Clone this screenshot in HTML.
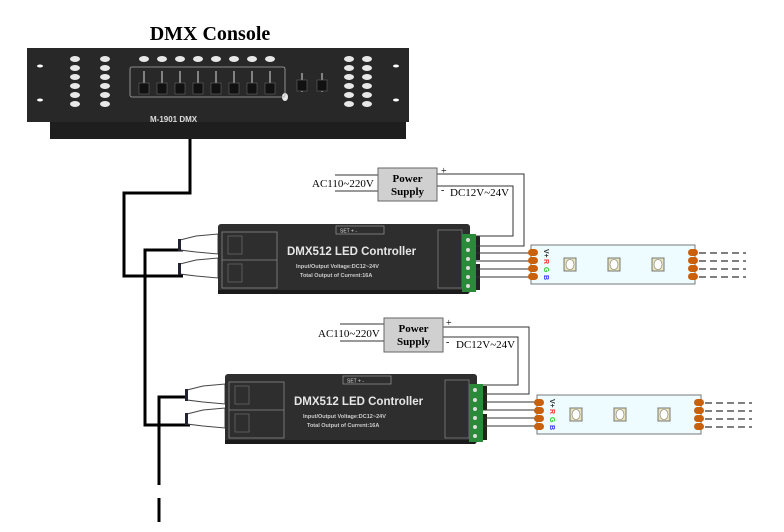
<!DOCTYPE html>
<html><head><style>
html,body{margin:0;padding:0;background:#fff;}
svg{display:block;}
</style></head><body>
<svg width="784" height="532" viewBox="0 0 784 532" xmlns="http://www.w3.org/2000/svg" font-family="Liberation Serif, serif">
<defs>
<g id="ctrl">
  <path d="M-38,16 L-22,12 L0,10 L0,30 L-22,28 L-38,26 Z" fill="#fff" stroke="#444"/>
  <path d="M-38,40 L-22,36 L0,34 L0,54 L-22,52 L-38,50 Z" fill="#fff" stroke="#444"/>
  <rect x="-40" y="15" width="3" height="12" fill="#223"/>
  <rect x="-40" y="39" width="3" height="12" fill="#223"/>
  <rect x="0" y="0" width="252" height="70" rx="3" fill="#2e2e2e"/>
  <rect x="0" y="66" width="250" height="4" fill="#1a1a1a"/>
  <rect x="4" y="8" width="55" height="56" fill="none" stroke="#888" stroke-width="0.8"/>
  <line x1="4" y1="36" x2="59" y2="36" stroke="#888" stroke-width="0.8"/>
  <rect x="10" y="12" width="14" height="18" fill="none" stroke="#777" stroke-width="0.6"/>
  <rect x="10" y="40" width="14" height="18" fill="none" stroke="#777" stroke-width="0.6"/>
  <rect x="118" y="2" width="48" height="8" fill="none" stroke="#999" stroke-width="0.7"/>
  <text x="122" y="8.5" font-family="Liberation Sans,sans-serif" font-size="5" fill="#ddd">SET  +   -</text>
  <text x="69" y="31" font-family="Liberation Sans,sans-serif" font-size="11.5" font-weight="bold" fill="#e6e6e6">DMX512 LED Controller</text>
  <text x="78" y="44" font-family="Liberation Sans,sans-serif" font-size="5.5" font-weight="bold" fill="#ccc">Input/Output Voltage:DC12~24V</text>
  <text x="82" y="53" font-family="Liberation Sans,sans-serif" font-size="5.5" font-weight="bold" fill="#ccc">Total Output of Current:16A</text>
  <rect x="220" y="6" width="24" height="58" fill="none" stroke="#888" stroke-width="0.7"/>
  <rect x="244" y="10" width="14" height="58" fill="#2a8a3a"/>
  <rect x="258" y="12" width="4" height="24" fill="#222"/>
  <rect x="258" y="40" width="4" height="26" fill="#222"/>
  <g fill="#ddd"><circle cx="250" cy="16" r="2"/><circle cx="250" cy="26" r="2"/><circle cx="250" cy="35" r="2"/><circle cx="250" cy="44" r="2"/><circle cx="250" cy="53" r="2"/><circle cx="250" cy="62" r="2"/></g>
</g>
<g id="strip">
  <rect x="0" y="0" width="164" height="39" fill="#eefcff" stroke="#777" stroke-width="1"/>
  <g fill="#c8600c">
    <rect x="-3" y="4" width="10" height="7" rx="3.5"/><rect x="-3" y="12" width="10" height="7" rx="3.5"/>
    <rect x="-3" y="20" width="10" height="7" rx="3.5"/><rect x="-3" y="28" width="10" height="7" rx="3.5"/>
    <rect x="157" y="4" width="10" height="7" rx="3.5"/><rect x="157" y="12" width="10" height="7" rx="3.5"/>
    <rect x="157" y="20" width="10" height="7" rx="3.5"/><rect x="157" y="28" width="10" height="7" rx="3.5"/>
  </g>
  <g font-family="Liberation Sans,sans-serif" font-size="7" font-weight="bold">
    <text transform="translate(13,4) rotate(90)" fill="#333">V+</text>
    <text transform="translate(13,14) rotate(90)" fill="#f33">R</text>
    <text transform="translate(13,22) rotate(90)" fill="#3c3">G</text>
    <text transform="translate(13,30) rotate(90)" fill="#33f">B</text>
  </g>
  <g fill="#e8e6b8" stroke="#777"><rect x="33" y="13" width="12" height="13"/><rect x="77" y="13" width="12" height="13"/><rect x="121" y="13" width="12" height="13"/></g>
  <g fill="#fff" stroke="#777" stroke-width="0.6"><ellipse cx="39" cy="19.5" rx="4" ry="5"/><ellipse cx="83" cy="19.5" rx="4" ry="5"/><ellipse cx="127" cy="19.5" rx="4" ry="5"/></g>
  <g stroke="#333" stroke-width="1.3" stroke-dasharray="7,4"><line x1="168" y1="8" x2="215" y2="8"/><line x1="168" y1="16" x2="215" y2="16"/><line x1="168" y1="24" x2="215" y2="24"/><line x1="168" y1="32" x2="215" y2="32"/></g>
</g>
</defs>

<text x="210" y="40" text-anchor="middle" font-size="20" font-weight="bold">DMX Console</text>
<rect x="50" y="118" width="356" height="21" fill="#1e1e1e"/>
<rect x="27" y="48" width="382" height="74" fill="#282828"/>
<g fill="#fff"><ellipse cx="40" cy="66" rx="3" ry="1.5"/><ellipse cx="40" cy="100" rx="3" ry="1.5"/><ellipse cx="396" cy="66" rx="3" ry="1.5"/><ellipse cx="396" cy="100" rx="3" ry="1.5"/></g>
<g fill="#e8e8e8">
<ellipse cx="75" cy="59" rx="5" ry="3"/><ellipse cx="75" cy="68" rx="5" ry="3"/><ellipse cx="75" cy="77" rx="5" ry="3"/><ellipse cx="75" cy="86" rx="5" ry="3"/><ellipse cx="75" cy="95" rx="5" ry="3"/><ellipse cx="75" cy="104" rx="5" ry="3"/>
<ellipse cx="105" cy="59" rx="5" ry="3"/><ellipse cx="105" cy="68" rx="5" ry="3"/><ellipse cx="105" cy="77" rx="5" ry="3"/><ellipse cx="105" cy="86" rx="5" ry="3"/><ellipse cx="105" cy="95" rx="5" ry="3"/><ellipse cx="105" cy="104" rx="5" ry="3"/>
<ellipse cx="144" cy="59" rx="5" ry="3"/><ellipse cx="162" cy="59" rx="5" ry="3"/><ellipse cx="180" cy="59" rx="5" ry="3"/><ellipse cx="198" cy="59" rx="5" ry="3"/><ellipse cx="216" cy="59" rx="5" ry="3"/><ellipse cx="234" cy="59" rx="5" ry="3"/><ellipse cx="252" cy="59" rx="5" ry="3"/><ellipse cx="270" cy="59" rx="5" ry="3"/>
<ellipse cx="349" cy="59" rx="5" ry="3"/><ellipse cx="349" cy="68" rx="5" ry="3"/><ellipse cx="349" cy="77" rx="5" ry="3"/><ellipse cx="349" cy="86" rx="5" ry="3"/><ellipse cx="349" cy="95" rx="5" ry="3"/><ellipse cx="349" cy="104" rx="5" ry="3"/>
<ellipse cx="367" cy="59" rx="5" ry="3"/><ellipse cx="367" cy="68" rx="5" ry="3"/><ellipse cx="367" cy="77" rx="5" ry="3"/><ellipse cx="367" cy="86" rx="5" ry="3"/><ellipse cx="367" cy="95" rx="5" ry="3"/><ellipse cx="367" cy="104" rx="5" ry="3"/>
<ellipse cx="285" cy="97" rx="3" ry="4"/>
</g>
<rect x="130" y="67" width="155" height="30" fill="none" stroke="#aaa" stroke-width="0.8" rx="2"/>
<g stroke="#ddd" stroke-width="1"><line x1="144" y1="71" x2="144" y2="92"/><line x1="162" y1="71" x2="162" y2="92"/><line x1="180" y1="71" x2="180" y2="92"/><line x1="198" y1="71" x2="198" y2="92"/><line x1="216" y1="71" x2="216" y2="92"/><line x1="234" y1="71" x2="234" y2="92"/><line x1="252" y1="71" x2="252" y2="92"/><line x1="270" y1="71" x2="270" y2="92"/><line x1="302" y1="73" x2="302" y2="92"/><line x1="322" y1="73" x2="322" y2="92"/></g>
<g fill="#111" stroke="#666" stroke-width="0.6"><rect x="139" y="83" width="10" height="11"/><rect x="157" y="83" width="10" height="11"/><rect x="175" y="83" width="10" height="11"/><rect x="193" y="83" width="10" height="11"/><rect x="211" y="83" width="10" height="11"/><rect x="229" y="83" width="10" height="11"/><rect x="247" y="83" width="10" height="11"/><rect x="265" y="83" width="10" height="11"/><rect x="297" y="80" width="10" height="11"/><rect x="317" y="80" width="10" height="11"/></g>
<text x="150" y="122" font-family="Liberation Sans,sans-serif" font-size="8" font-weight="bold" fill="#ddd">M-1901   DMX</text>
<g stroke="#000" stroke-width="3" fill="none">
<polyline points="190,139 190,193 124,193 124,276 183,276"/>
<polyline points="183,250 145,250 145,425 190,425"/>
<polyline points="190,397 159,397 159,485"/>
<line x1="159" y1="498" x2="159" y2="522"/>
</g>
<use href="#ctrl" x="218" y="224"/>
<use href="#ctrl" x="225" y="374"/>
<g stroke="#333" stroke-width="1" fill="none">
<line x1="335" y1="175" x2="378" y2="175"/><line x1="335" y1="191" x2="378" y2="191"/>
<polyline points="437,174 524,174 524,246 476,246"/>
<polyline points="437,186 513,186 513,236 476,236"/>
<line x1="476" y1="253" x2="533" y2="253"/><line x1="476" y1="261" x2="533" y2="261"/><line x1="476" y1="269" x2="533" y2="269"/><line x1="476" y1="277" x2="533" y2="277"/>
<line x1="340" y1="324" x2="384" y2="324"/><line x1="340" y1="341" x2="384" y2="341"/>
<polyline points="443,327 529,327 529,394 483,394"/>
<polyline points="443,337 518,337 518,385 483,385"/>
<line x1="483" y1="402" x2="539" y2="402"/><line x1="483" y1="410" x2="539" y2="410"/><line x1="483" y1="418" x2="539" y2="418"/><line x1="483" y1="426" x2="539" y2="426"/>
</g>
<rect x="378" y="168" width="59" height="33" fill="#d0d0d0" stroke="#666"/>
<text x="407.5" y="182" text-anchor="middle" font-size="11" font-weight="bold">Power</text>
<text x="407.5" y="195" text-anchor="middle" font-size="11" font-weight="bold">Supply</text>
<text x="312" y="187" font-size="11">AC110~220V</text>
<text x="441" y="174" font-size="10">+</text>
<text x="441" y="193" font-size="10">-</text>
<text x="450" y="196" font-size="11">DC12V~24V</text>
<rect x="384" y="318" width="59" height="34" fill="#d0d0d0" stroke="#666"/>
<text x="413.5" y="332" text-anchor="middle" font-size="11" font-weight="bold">Power</text>
<text x="413.5" y="345" text-anchor="middle" font-size="11" font-weight="bold">Supply</text>
<text x="318" y="337" font-size="11">AC110~220V</text>
<text x="446" y="326" font-size="10">+</text>
<text x="446" y="345" font-size="10">-</text>
<text x="456" y="348" font-size="11">DC12V~24V</text>
<use href="#strip" x="531" y="245"/>
<use href="#strip" x="537" y="395"/>
</svg>
</body></html>
